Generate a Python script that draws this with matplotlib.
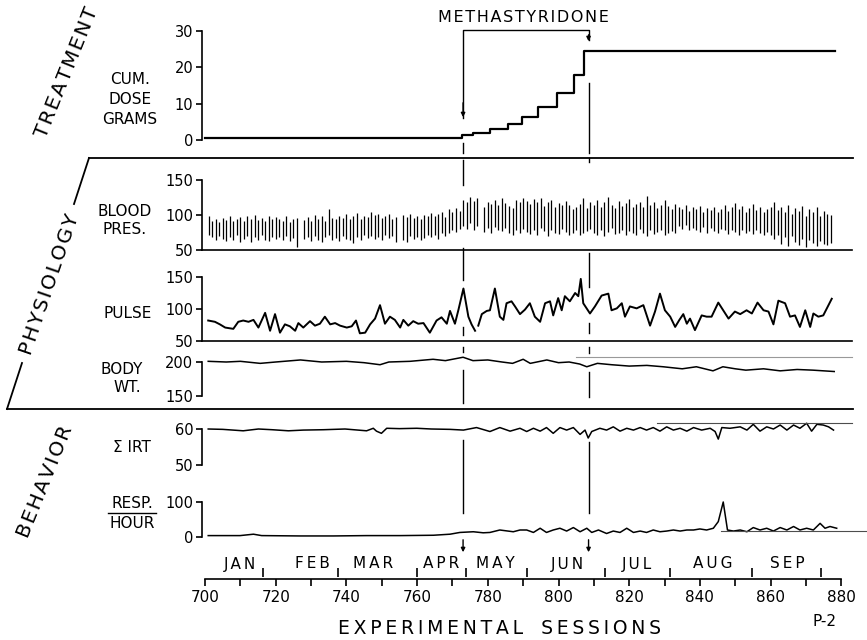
import numpy as np
import matplotlib.pyplot as plt
from matplotlib.transforms import blended_transform_factory

# ---- data ----
# cumulative dose (grams), step function
dose_sessions = [700, 772.7, 775.8, 780.6, 785.7, 789.7, 794.2, 799.6, 804.4, 807.2, 878.2]
dose_grams = [0.5, 1.4, 1.9, 3.0, 4.4, 6.3, 9.1, 13.0, 17.9, 24.5, 24.5]

drug_period = [773, 808.5]

# blood pressure, one bar per session 701..877 (nan = no reading)
bp_sessions = np.arange(701, 878)
bp_high = [98, 92, 95, 90, 96, 93, 99, 91, 94, 97,
           92, 98, 95, 100, 93, 96, 91, 99, 94, 97,
           95, 92, 98, 90, 94, 96, np.nan, 93, 97, 91,
           100, 95, 98, 92, 108, 96, 94, 99, 96, 101,
           94, 98, 103, 95, 99, 97, 104, 100, 102, 96,
           99, 101, 95, 97, np.nan, 100, 97, 102, 96, 99,
           94, 100, 98, 103, 99, 101, 104, 97, 108, 105,
           110, 106, 122, 118, 126, 120, 124, np.nan, 112, 119,
           116, 121, 114, 125, 117, 113, 110, 122, 118, 125,
           120, 116, 123, 119, 125, 113, 118, 121, 111, 117,
           115, 120, 114, 108, 112, 116, 124, 110, 118, 114,
           122, 112, 119, 126, 115, 110, 120, 113, 117, 123,
           111, 116, 119, 112, 127, 114, 118, 110, 115, 121,
           113, 108, 116, 112, 109, 114, 106, 111, 108, 113,
           105, 110, 107, 112, 104, 109, 114, 106, 111, 117,
           108, 113, 105, 110, 116, 107, 112, 104, 109, 111,
           118, 107, 112, 104, 115, 101, 110, 106, 113, 99,
           108, 104, 111, 98, 106, 102, 100]
bp_low = [72, 68, 64, 70, 66, 63, 69, 65, 71, 62,
          66, 70, 62, 68, 64, 71, 65, 63, 69, 66,
          68, 64, 70, 63, 67, 55, np.nan, 66, 69, 63,
          70, 65, 62, 68, 71, 64, 67, 63, 70, 66,
          64, 60, 68, 65, 72, 67, 70, 66, 69, 64,
          71, 67, 70, 62, np.nan, 65, 62, 70, 66, 68,
          64, 67, 71, 69, 72, 66, 75, 70, 74, 78,
          76, 80, 84, 80, 88, 78, 85, np.nan, 76, 82,
          74, 83, 79, 77, 81, 75, 72, 79, 74, 80,
          76, 73, 79, 72, 81, 77, 70, 78, 75, 73,
          80, 76, 71, 74, 78, 72, 75, 77, 80, 75,
          72, 78, 70, 76, 81, 73, 74, 79, 71, 77,
          75, 72, 80, 74, 70, 78, 73, 76, 79, 71,
          75, 77, 74, 84, 80, 86, 78, 82, 79, 76,
          83, 75, 81, 77, 74, 80, 78, 73, 79, 76,
          72, 78, 74, 77, 73, 79, 75, 71, 76, 72,
          66, 72, 58, 68, 56, 70, 62, 57, 66, 55,
          64, 60, 56, 63, 58, 57, 60]

pulse_sessions = [700.9, 702.8, 704.2, 705.7, 708.0, 709.4, 710.8, 712.3, 713.7, 715.1,
                  717.0, 718.4, 719.8, 721.2, 722.6, 724.0, 725.5, 726.4, 727.8, 729.7,
                  731.1, 732.5, 733.9, 735.4, 736.8, 738.2, 740.1, 741.5, 742.7, 743.8,
                  745.3, 746.7, 748.1, 749.5, 750.9, 752.3, 753.7, 755.2, 756.1, 757.5,
                  758.9, 760.3, 761.8, 763.6, 765.5, 766.9, 768.4, 769.3, 770.7, 771.7,
                  773.1, 774.5, 775.4, 776.4, 776.9, 777.3, 778.3, 779.7, 780.6, 782.0,
                  783.4, 784.4, 785.3, 786.7, 787.7, 789.1, 790.5, 791.9, 793.3, 794.8,
                  796.2, 797.6, 798.5, 799.9, 800.9, 801.8, 803.2, 804.7, 805.6, 806.3,
                  807.0, 808.9, 810.3, 812.2, 814.1, 815.0, 816.5, 817.9, 818.8, 820.2,
                  822.1, 824.0, 825.9, 827.3, 828.7, 830.1, 831.6, 833.0, 834.2, 835.3,
                  836.3, 837.2, 838.6, 840.5, 841.9, 843.3, 845.2, 846.6, 848.1, 849.9,
                  851.4, 853.2, 854.7, 856.3, 858.0, 859.4, 860.8, 862.2, 864.1, 865.5,
                  866.9, 868.3, 869.8, 871.2, 872.1, 873.5, 874.9, 877.3]
pulse_rate = [82, 80, 76, 71, 69, 80, 82, 80, 83, 71,
              94, 66, 92, 63, 76, 73, 66, 78, 71, 81,
              74, 77, 88, 76, 78, 74, 71, 73, 82, 62,
              63, 76, 85, 106, 77, 88, 83, 71, 83, 74,
              81, 77, 78, 63, 82, 87, 77, 97, 77, 99,
              132, 88, 76, 66, np.nan, 74, 92, 97, 98, 132,
              88, 83, 109, 112, 104, 92, 99, 109, 88, 80,
              109, 112, 90, 117, 98, 120, 112, 125, 120, 147,
              109, 93, 104, 121, 124, 98, 101, 109, 88, 104,
              101, 106, 74, 96, 124, 98, 88, 72, 83, 92,
              77, 85, 67, 90, 88, 88, 110, 98, 85, 96,
              92, 98, 93, 110, 98, 96, 76, 113, 109, 88,
              90, 72, 98, 72, 93, 88, 90, 116]

wt_sessions = [700.9, 706, 710, 715.6, 720, 727, 733, 740, 745, 749.5,
               752, 758, 764.5, 768, 773, 775.8, 780, 784, 787, 790,
               792, 796.7, 800, 803, 806, 808, 811, 815, 820, 825,
               829.6, 835, 839, 843.7, 846.5, 850, 853, 858, 862.7, 867.5,
               872, 878]
body_wt = [201, 200, 201, 198, 200, 203, 200, 201, 199, 196,
           200, 201, 204, 202, 207, 202, 203, 200, 198, 204,
           198, 203, 199, 200, 197, 193, 198, 196, 194, 195,
           193, 190, 193, 187, 193, 190, 188, 190, 187, 189,
           188, 186]

irt_sessions = [700.9, 705.0, 710.8, 715.1, 719.0, 723.6, 727.8, 733.5, 739.6, 745.7,
                747.6, 748.5, 749.9, 751.4, 755.0, 759.9, 764.0, 769.3, 773.1, 776.8,
                780.6, 783.4, 786.3, 789.1, 791.0, 792.9, 794.8, 796.6, 798.5, 800.4,
                802.3, 804.2, 806.1, 807.5, 808.4, 809.4, 811.7, 813.6, 815.5, 817.4,
                819.3, 821.2, 823.1, 824.9, 826.8, 828.7, 830.6, 832.5, 834.4, 836.3,
                838.2, 840.5, 842.9, 844.3, 845.2, 846.2, 848.5, 851.4, 853.3, 855.1,
                857.0, 858.9, 860.8, 862.7, 864.6, 866.5, 868.3, 870.2, 871.6, 873.1,
                874.9, 876.4, 877.8]
irt_sum = [60.0, 59.9, 59.5, 60.0, 59.8, 59.5, 59.7, 59.8, 60.0, 59.5,
           60.2, 59.4, 58.8, 60.2, 60.1, 60.2, 60.0, 59.9, 59.7, 60.4,
           59.3, 60.4, 59.4, 60.2, 59.3, 60.2, 59.4, 60.4, 58.8, 60.4,
           59.7, 60.4, 58.5, 59.7, 57.5, 59.3, 60.2, 59.7, 60.6, 59.4,
           60.2, 59.7, 60.4, 59.7, 60.4, 59.4, 60.6, 59.7, 60.2, 59.4,
           60.4, 59.7, 60.2, 59.3, 57.2, 60.4, 60.2, 60.6, 59.7, 61.3,
           59.4, 60.6, 60.0, 61.1, 59.7, 61.1, 60.2, 61.6, 59.4, 61.3,
           61.1, 60.6, 59.7]

resp_sessions = [700.9, 709.9, 713.7, 716.0, 726.9, 736.3, 745.7, 755.2, 764.6, 769.3,
                 772.1, 775.9, 778.7, 780.6, 783.4, 787.2, 789.1, 791.0, 792.9, 794.8,
                 796.6, 798.5, 800.4, 802.3, 804.2, 806.1, 808.0, 809.4, 811.3, 813.6,
                 815.5, 817.4, 819.3, 821.2, 823.1, 824.9, 826.8, 828.7, 830.6, 832.5,
                 834.4, 836.3, 838.2, 840.0, 841.9, 843.8, 845.2, 846.6, 847.8, 849.5,
                 851.4, 853.3, 855.1, 857.0, 858.9, 860.8, 862.7, 864.6, 866.5, 868.3,
                 870.2, 872.1, 874.0, 875.4, 876.8, 878.7]
resp_hour = [4, 4, 8, 4, 3, 3, 4, 4, 5, 8,
             13, 15, 12, 13, 20, 15, 20, 20, 13, 25,
             13, 20, 25, 17, 27, 15, 25, 13, 20, 10,
             17, 13, 25, 13, 17, 13, 20, 15, 17, 20,
             17, 20, 20, 23, 20, 25, 44, 100, 20, 17,
             20, 15, 27, 20, 25, 17, 27, 20, 30, 20,
             25, 20, 39, 25, 30, 25]

months = ["JAN", "FEB", "MAR", "APR", "MAY", "JUN", "JUL", "AUG", "SEP"]
month_centers = [709.9, 730.3, 747.5, 766.8, 782.0, 802.4, 822.2, 843.7, 864.6]
month_breaks = [716.4, 737.6, 759.9, 773.8, 791.1, 813.2, 831.5, 854.7, 874.2]

# ---- layout (pixel based, 867x640) ----
W_PX, H_PX = 867, 640
X0, X1 = 699, 883
LEFT_PX, RIGHT_PX = 201.5, 851.9
TS = u"\u2009"  # thin space, for spaced-out lettering
HS = u"\u200a"  # hair space

fig = plt.figure(figsize=(8.67, 6.4), dpi=100)


def add_panel(top, bottom, ymin, ymax, ticks):
	ax = fig.add_axes([LEFT_PX / W_PX, 1 - bottom / H_PX,
					   (RIGHT_PX - LEFT_PX) / W_PX, (bottom - top) / H_PX])
	ax.set_xlim(X0, X1)
	ax.set_ylim(ymin, ymax)
	ax.patch.set_visible(False)
	for s in ["top", "right", "bottom"]:
		ax.spines[s].set_visible(False)
	ax.spines["left"].set_linewidth(1.2)
	ax.spines["left"].set_bounds(ticks[0], ticks[-1])
	ax.set_xticks([])
	ax.set_yticks(ticks)
	ax.tick_params(axis="y", direction="out", length=4, width=1.2, labelsize=10.5, pad=2)
	return ax


treat = add_panel(31, 140, 0, 30, [0, 10, 20, 30])
bp = add_panel(180, 250, 50, 150, [50, 100, 150])
pulse = add_panel(277, 341, 50, 150, [50, 100, 150])
wt = add_panel(355.2, 396, 150, 210, [150, 200])
irt = add_panel(421.8, 465, 50, 62, [50, 60])
resp = add_panel(502, 537, 0, 100, [0, 100])

bp.spines["bottom"].set_visible(True)
bp.spines["bottom"].set_linewidth(1.2)
pulse.spines["bottom"].set_visible(True)
pulse.spines["bottom"].set_linewidth(1.2)

treat.step(dose_sessions, dose_grams, where="post", color="black", lw=1.6, clip_on=False)
bp.vlines(bp_sessions, bp_low, bp_high, color="black", lw=0.9)
pulse.plot(pulse_sessions, pulse_rate, color="black", lw=1.4, clip_on=False)
wt.plot(wt_sessions, body_wt, color="black", lw=1.1, clip_on=False)
wt.plot([805, 883], [208, 208], color="0.6", lw=0.8, clip_on=False)
irt.plot(irt_sessions, irt_sum, color="black", lw=1.1, clip_on=False)
irt.plot([828, 883], [61.8, 61.8], color="0.3", lw=0.8, clip_on=False)
resp.plot(resp_sessions, resp_hour, color="black", lw=1.1, clip_on=False)
resp.plot([846, 888], [18, 18], color="0.3", lw=0.8, clip_on=False)

# x axis
axx = fig.add_axes([LEFT_PX / W_PX, 1 - 579 / H_PX, (RIGHT_PX - LEFT_PX) / W_PX, 0.01])
axx.set_xlim(X0, X1)
axx.patch.set_visible(False)
for s in ["top", "right", "left"]:
	axx.spines[s].set_visible(False)
axx.spines["bottom"].set_bounds(700, 880)
axx.spines["bottom"].set_linewidth(1.2)
axx.set_yticks([])
axx.set_xticks(range(700, 881, 20))
axx.set_xticks(range(710, 880, 20), minor=True)
axx.tick_params(axis="x", which="both", direction="out", length=5, width=1.2, labelsize=11, pad=3)

# overlay in pixel coordinates for labels, brackets and markers
ov = fig.add_axes([0, 0, 1, 1])
ov.set_xlim(0, W_PX)
ov.set_ylim(H_PX, 0)
ov.axis("off")
bt = blended_transform_factory(treat.transData, ov.transData)

# physiology bracket
ov.plot([89, 853], [158, 158], color="black", lw=1.3)
ov.plot([7, 853], [409, 409], color="black", lw=1.3)
ov.plot([89, 74], [158, 204], color="black", lw=1.3)
ov.plot([22, 7], [363, 409], color="black", lw=1.3)

ov.text(67, 73, HS.join("TREATMENT"), rotation=68, fontsize=14.5, ha="center", va="center")
ov.text(50, 285, HS.join("PHYSIOLOGY"), rotation=71, fontsize=14.5, ha="center", va="center")
ov.text(45, 482, HS.join("BEHAVIOR"), rotation=68, fontsize=14.5, ha="center", va="center")

labels = [("CUM.", 130, 80), ("DOSE", 130, 99), ("GRAMS", 130, 119),
		  ("BLOOD", 125, 212), ("PRES.", 125, 229), ("PULSE", 128, 313),
		  ("BODY", 122, 370), ("WT.", 127, 388), (u"\u03a3 IRT", 132, 448),
		  ("RESP.", 132, 503), ("HOUR", 132, 524)]
for txt, x, y in labels:
	ov.text(x, y, txt, fontsize=11, ha="center", va="center")
ov.plot([108, 156], [513, 513], color="black", lw=1.0)

# methastyridone bracket
d0, d1 = drug_period
ov.text(523, 17, HS.join("METHASTYRIDONE"), fontsize=11.5, ha="center", va="center")
ov.plot([d0, d0, d1, d1], [118, 30, 30, 40], color="black", lw=1.0, transform=bt)
for d, y0, y1 in [(d0, 100, 120), (d1, 32, 44)]:
	ov.annotate("", xy=(d, y1), xytext=(d, y0), xycoords=bt, textcoords=bt,
				arrowprops=dict(arrowstyle="-|>", color="black", lw=1.0, mutation_scale=6))

# broken vertical lines marking start / end of drug
seg_start = [(143, 153), (160, 185), (248, 280), (327, 335), (347, 352), (370, 403), (440, 513)]
seg_end = [(83, 153), (158, 162), (253, 287), (323, 333), (347, 353), (372, 397), (442, 513)]
for d, segs in [(d0, seg_start), (d1, seg_end)]:
	for y0, y1 in segs:
		ov.plot([d, d], [y0, y1], color="black", lw=1.0, transform=bt)
	ov.annotate("", xy=(d, 555), xytext=(d, 537), xycoords=bt, textcoords=bt,
				arrowprops=dict(arrowstyle="-|>", color="black", lw=1.0, mutation_scale=6))

# months row
for name, c in zip(months, month_centers):
	ov.text(c, 564, TS.join(name), fontsize=11, ha="center", va="center", transform=bt)
ov.vlines(month_breaks, 568, 577, color="black", lw=1.2, transform=bt)

ov.text(500, 628, TS.join("EXPERIMENTAL") + "   " + TS.join("SESSIONS"),
		fontsize=13.5, ha="center", va="center")
ov.text(824, 622, "P-2", fontsize=11, ha="center", va="center")

fig.savefig("out.png", dpi=100)
